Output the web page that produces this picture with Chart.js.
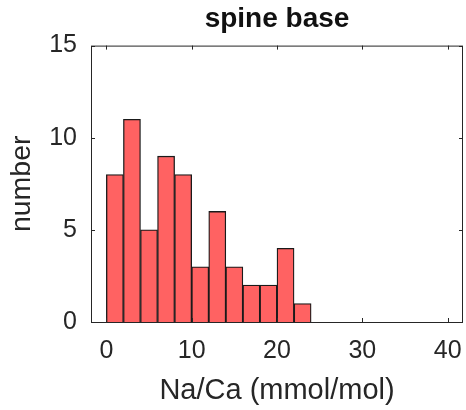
<!DOCTYPE html>
<html lang="en">
<head>
    <meta charset="UTF-8">
    <title>spine base</title>
    <script src="https://cdn.jsdelivr.net/npm/chart.js"></script>
    <style>
        body { margin: 0; background: #fff; }
        #wrap { width: 466px; height: 410px; }
    </style>
</head>
<body>
    <div id="wrap"><canvas id="hist"></canvas></div>
    <script>
        // histogram bins (width 2), centres and counts
        const binCenters = [1, 3, 5, 7, 9, 11, 13, 15, 17, 19, 21, 23];
        const counts = [8, 11, 5, 9, 8, 3, 6, 3, 2, 2, 4, 1];
        const xTicks = [0, 10, 20, 30, 40];
        const yTicks = [0, 5, 10, 15];

        const axisColor = '#262626';
        const font = 'Liberation Sans, Arial, sans-serif';

        // MATLAB-style box with inward ticks
        const boxPlugin = {
            id: 'box',
            afterDraw(chart) {
                const { ctx, chartArea: a, scales } = chart;
                ctx.save();
                ctx.strokeStyle = axisColor;
                ctx.lineWidth = 1;
                ctx.strokeRect(a.left + 0.5, a.top + 0.5, a.right - a.left - 1, a.bottom - a.top);
                ctx.beginPath();
                xTicks.forEach(v => {
                    const px = Math.round(scales.x.getPixelForValue(v)) + 0.5;
                    ctx.moveTo(px, a.bottom); ctx.lineTo(px, a.bottom - 4);
                    ctx.moveTo(px, a.top); ctx.lineTo(px, a.top + 4);
                });
                yTicks.forEach(v => {
                    const py = Math.round(scales.y.getPixelForValue(v)) + 0.5;
                    ctx.moveTo(a.left, py); ctx.lineTo(a.left + 4, py);
                    ctx.moveTo(a.right, py); ctx.lineTo(a.right - 4, py);
                });
                ctx.stroke();
                ctx.restore();
            }
        };

        new Chart(document.getElementById('hist'), {
            type: 'bar',
            data: {
                datasets: [{
                    data: binCenters.map((c, i) => ({ x: c, y: counts[i] })),
                    backgroundColor: '#ff6262',
                    borderColor: '#1a1a1a',
                    borderWidth: 1.3,
                    barPercentage: 1,
                    categoryPercentage: 1
                }]
            },
            options: {
                responsive: true,
                maintainAspectRatio: false,
                animation: false,
                layout: { padding: { top: 0, right: 3, left: 0, bottom: 0 } },
                plugins: {
                    legend: { display: false },
                    tooltip: { enabled: false },
                    title: {
                        display: true,
                        text: 'spine base',
                        fullSize: false,
                        color: '#111',
                        font: { family: font, size: 28, weight: 'bold' },
                        padding: { top: 2, bottom: 10 }
                    }
                },
                scales: {
                    x: {
                        type: 'linear',
                        offset: false,
                        min: -1.8,
                        max: 41.8,
                        afterFit(s) { s.height = 88; s.paddingLeft = 0; s.paddingRight = 0; },
                        afterBuildTicks(s) { s.ticks = xTicks.map(v => ({ value: v })); },
                        grid: { display: false, drawTicks: false },
                        border: { display: false },
                        ticks: { color: axisColor, padding: 14, maxRotation: 0, font: { family: font, size: 25 } },
                        title: {
                            display: true,
                            text: 'Na/Ca (mmol/mol)',
                            color: axisColor,
                            font: { family: font, size: 29 },
                            padding: { top: 0, bottom: 2 }
                        }
                    },
                    y: {
                        min: 0,
                        max: 15,
                        afterFit(s) { s.width = 91; s.paddingTop = 0; s.paddingBottom = 0; },
                        afterBuildTicks(s) { s.ticks = yTicks.map(v => ({ value: v })); },
                        grid: { display: false, drawTicks: false },
                        border: { display: false },
                        ticks: { color: axisColor, padding: 14, font: { family: font, size: 25 } },
                        title: {
                            display: true,
                            text: 'number',
                            color: axisColor,
                            font: { family: font, size: 28.5 },
                            padding: { top: 5, bottom: 0 }
                        }
                    }
                }
            },
            plugins: [boxPlugin]
        });
    </script>
</body>
</html>
